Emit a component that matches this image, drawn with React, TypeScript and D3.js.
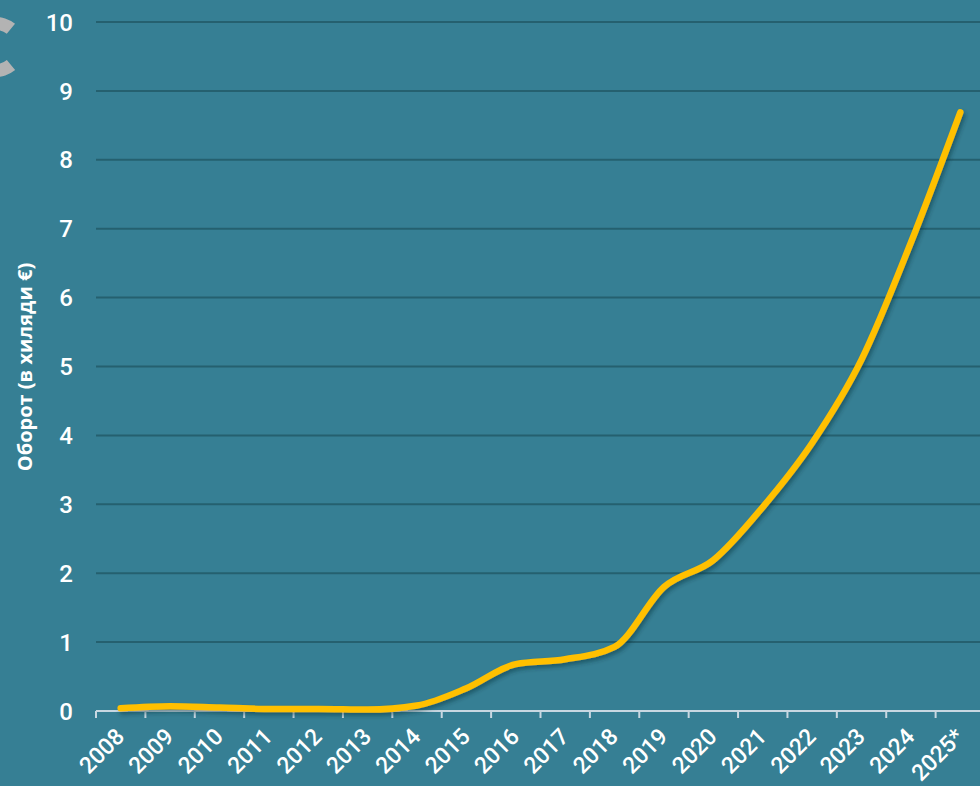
import React from 'react';
import * as d3 from 'd3';

const years = ['2008', '2009', '2010', '2011', '2012', '2013', '2014', '2015', '2016',
  '2017', '2018', '2019', '2020', '2021', '2022', '2023', '2024', '2025*'];
const turnover = [0.04, 0.07, 0.05, 0.03, 0.03, 0.02, 0.08, 0.33, 0.68,
  0.75, 0.93, 1.8, 2.19, 2.96, 3.89, 5.1, 6.8, 8.69];
const yTicks = [0, 1, 2, 3, 4, 5, 6, 7, 8, 9, 10];
const yTitle = 'Оборот (в хиляди €)';

const W = 980;
const H = 786;
const margin = { top: 22, right: -5, bottom: 75, left: 96 };

const App = () => {
  const svgRef = React.useRef<SVGSVGElement>(null);

  React.useEffect(() => {
    const svg = d3.select(svgRef.current);
    svg.selectAll('*').remove();

    const width = W - margin.left - margin.right;
    const height = H - margin.top - margin.bottom;

    const defs = svg.append('defs');
    const f = defs.append('filter').attr('id', 'shadow')
      .attr('x', '-10%').attr('y', '-10%').attr('width', '120%').attr('height', '120%');
    f.append('feDropShadow')
      .attr('dx', 2).attr('dy', 3).attr('stdDeviation', 2)
      .attr('flood-color', '#0d2a33').attr('flood-opacity', 0.45);

    svg.append('rect').attr('width', W).attr('height', H).attr('fill', '#367f94');

    // clipped logo arc at top-left
    const arc = d3.arc()({ innerRadius: 17, outerRadius: 30, startAngle: 2.45, endAngle: 6.97 } as any);
    svg.append('path')
      .attr('d', arc)
      .attr('transform', 'translate(-4,47)')
      .attr('fill', '#b3b3b3');

    const g = svg.append('g').attr('transform', `translate(${margin.left},${margin.top})`);

    const x = d3.scaleBand().domain(years).range([0, width]);
    const y = d3.scaleLinear().domain([0, 10]).range([height, 0]);

    // gridlines
    g.append('g')
      .selectAll('line')
      .data(yTicks.filter(t => t > 0))
      .join('line')
      .attr('x1', 0).attr('x2', width)
      .attr('y1', d => y(d)).attr('y2', d => y(d))
      .attr('stroke', '#25606f').attr('stroke-width', 2);

    // y labels
    g.append('g')
      .selectAll('text')
      .data(yTicks)
      .join('text')
      .attr('x', -23)
      .attr('y', d => y(d))
      .attr('dy', '0.36em')
      .attr('text-anchor', 'end')
      .attr('fill', '#fff')
      .style('font-family', 'Roboto, sans-serif')
      .style('font-weight', 500)
      .style('font-size', '24px')
      .text(d => d);

    // x axis
    const xa = g.append('g').attr('transform', `translate(0,${height})`);
    xa.append('line')
      .attr('x1', 0).attr('x2', width)
      .attr('stroke', '#c8d8e2').attr('stroke-width', 2);
    xa.selectAll('line.tick')
      .data(years)
      .join('line')
      .attr('class', 'tick')
      .attr('x1', d => x(d)!).attr('x2', d => x(d)!)
      .attr('y1', 0).attr('y2', 7)
      .attr('stroke', '#c8d8e2').attr('stroke-width', 2);
    xa.selectAll('text')
      .data(years)
      .join('text')
      .attr('transform', d => `translate(${x(d)! + x.bandwidth() / 2 + 5},${27}) rotate(-45)`)
      .attr('text-anchor', 'end')
      .attr('fill', '#fff')
      .style('font-family', 'Roboto, sans-serif')
      .style('font-weight', 500)
      .style('font-size', '23px')
      .text(d => d);

    // line
    const line = d3.line<number>()
      .x((_, i) => x(years[i])! + x.bandwidth() / 2)
      .y(d => y(d))
      .curve(d3.curveMonotoneX);

    g.append('path')
      .datum(turnover)
      .attr('d', line)
      .attr('fill', 'none')
      .attr('stroke', '#ffc000')
      .attr('stroke-width', 6.5)
      .attr('stroke-linecap', 'round')
      .attr('filter', 'url(#shadow)');

    // y title
    svg.append('text')
      .attr('transform', `translate(32,${367}) rotate(-90)`)
      .attr('text-anchor', 'middle')
      .attr('fill', '#fff')
      .style('font-family', '"Open Sans", sans-serif')
      .style('font-weight', 700)
      .style('font-size', '20px')
      .text(yTitle);
  }, []);

  return (
    <svg ref={svgRef} width={W} height={H}
      style={{ position: 'absolute', left: 0, top: 0, display: 'block' }} />
  );
};

export default App;
